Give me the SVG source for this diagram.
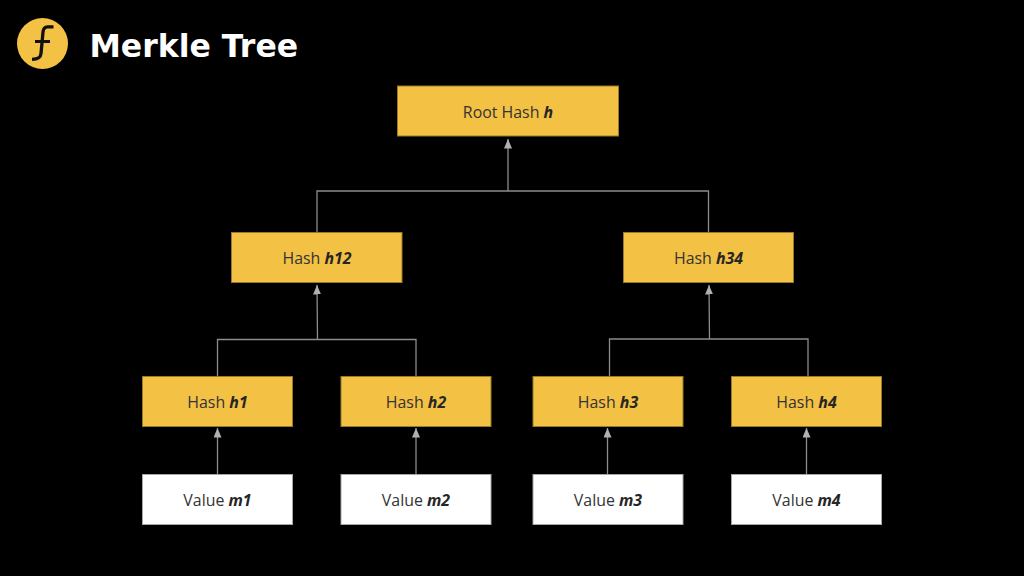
<svg xmlns="http://www.w3.org/2000/svg" width="1024" height="576" viewBox="0 0 1024 576">
<defs>
<marker id="arrow" markerUnits="userSpaceOnUse" markerWidth="10" markerHeight="9" refX="9.500" refY="4" orient="auto">
<path d="M0 0L9.500 4L0 8Z" fill="#b0b0b0"/>
</marker>
</defs>
<style>
.n{stroke-width:1}
.y{fill:#f3c143;stroke:#9a7a2a}
.w{fill:#fff;stroke:#a6a6a6}
text.l{font-family:"Open Sans",sans-serif;font-size:15.9px;fill:#333;text-anchor:middle}
text.l tspan{font-weight:700;font-style:italic;fill:#262626}
.c{fill:none;stroke:#8c8c8c;stroke-width:1.3}
.a{marker-end:url(#arrow)}
</style>
<rect width="1024" height="576" fill="#000"/>
<g id="logo">
<circle cx="42.5" cy="43.500" r="25.500" fill="#f3c143"/>
<path d="M53.500 26.800H47.500C44.500 26.800 43.300 29 43 32L41 53.500C40.600 57.500 38.500 59.300 32 59.300" fill="none" stroke="#111" stroke-width="3.300"/>
<path d="M35 41.500H50" fill="none" stroke="#111" stroke-width="3"/>
</g>
<text id="title" x="89.500" y="57" font-family="'DejaVu Sans',sans-serif" font-weight="700" font-size="31.500" fill="#fff">Merkle Tree</text>
<g id="connectors">
<path class="c" d="M317 233V191H708.500V233"/>
<path class="c a" d="M508 191V139"/>
<path class="c" d="M217.500 377V339.500H416V377"/>
<path class="c a" d="M317.500 339.500L317 285"/>
<path class="c" d="M609.500 377V339H808V377"/>
<path class="c a" d="M709.500 339L709 285"/>
<path class="c a" d="M217.500 475V428"/>
<path class="c a" d="M416 475V428"/>
<path class="c a" d="M607.500 475V428"/>
<path class="c a" d="M806.500 475V428"/>
</g>
<g id="root" class="n"><rect class="y" x="397.500" y="86" width="221" height="50"/><text class="l" x="508" y="118">Root Hash <tspan>h</tspan></text></g>
<g id="h12" class="n"><rect class="y" x="231.500" y="232.500" width="170.500" height="50"/><text class="l" x="317" y="264">Hash <tspan>h12</tspan></text></g>
<g id="h34" class="n"><rect class="y" x="623.500" y="232.500" width="170" height="50"/><text class="l" x="708.500" y="264">Hash <tspan>h34</tspan></text></g>
<g id="h1" class="n"><rect class="y" x="142.500" y="376.500" width="150" height="50"/><text class="l" x="217.500" y="408">Hash <tspan>h1</tspan></text></g>
<g id="h2" class="n"><rect class="y" x="341" y="376.500" width="150" height="50"/><text class="l" x="416" y="408">Hash <tspan>h2</tspan></text></g>
<g id="h3" class="n"><rect class="y" x="533" y="376.500" width="150" height="50"/><text class="l" x="608" y="408">Hash <tspan>h3</tspan></text></g>
<g id="h4" class="n"><rect class="y" x="731.500" y="376.500" width="150" height="50"/><text class="l" x="806.500" y="408">Hash <tspan>h4</tspan></text></g>
<g id="m1" class="n"><rect class="w" x="142.500" y="474.500" width="150" height="50"/><text class="l" x="217.500" y="506">Value <tspan>m1</tspan></text></g>
<g id="m2" class="n"><rect class="w" x="341" y="474.500" width="150" height="50"/><text class="l" x="416" y="506">Value <tspan>m2</tspan></text></g>
<g id="m3" class="n"><rect class="w" x="533" y="474.500" width="150" height="50"/><text class="l" x="608" y="506">Value <tspan>m3</tspan></text></g>
<g id="m4" class="n"><rect class="w" x="731.500" y="474.500" width="150" height="50"/><text class="l" x="806.500" y="506">Value <tspan>m4</tspan></text></g>
</svg>
